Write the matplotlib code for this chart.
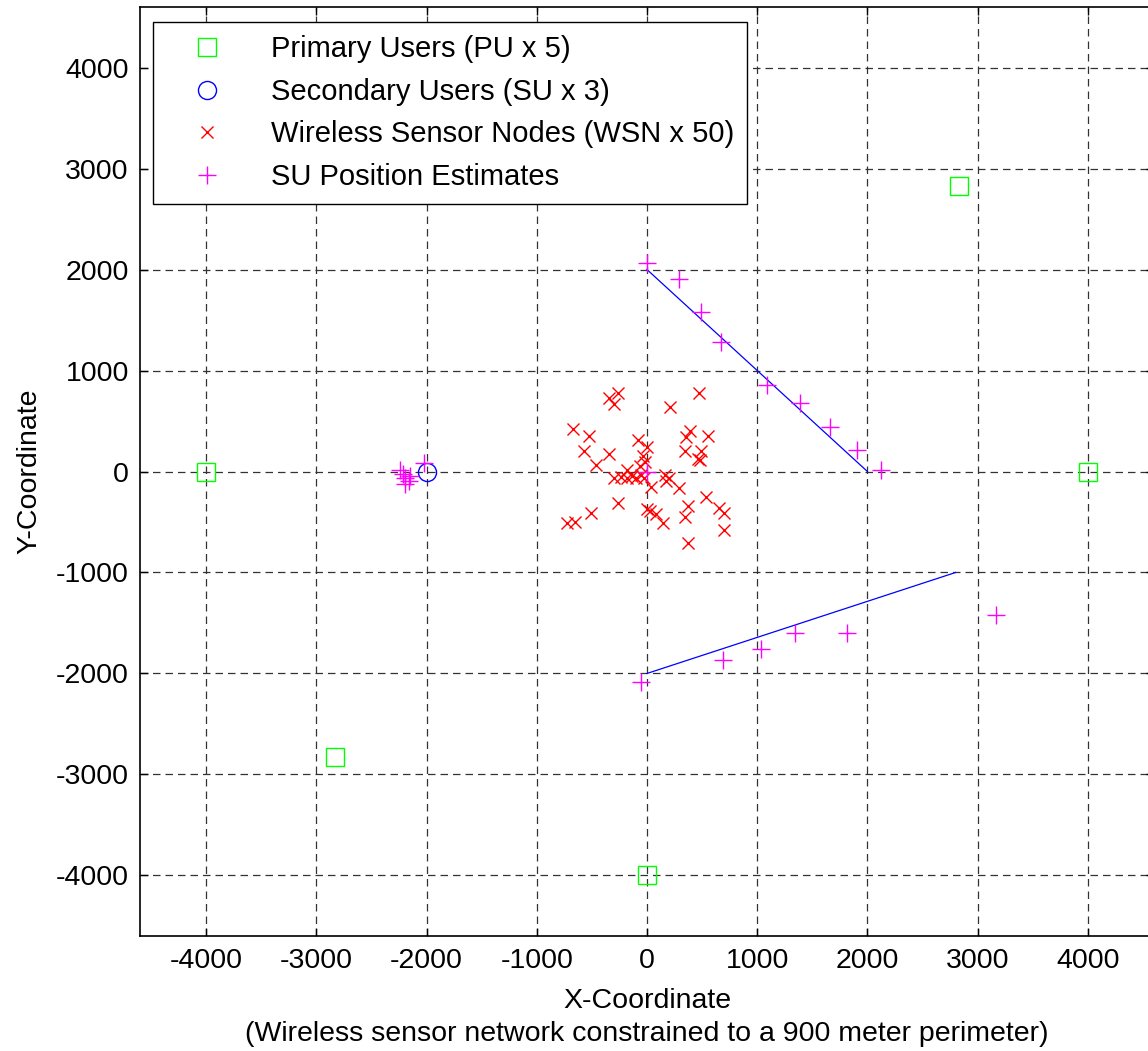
import numpy as np
import matplotlib
matplotlib.use('Agg')
import matplotlib.pyplot as plt

plt.rcParams['font.family'] = ['Liberation Sans', 'DejaVu Sans']
plt.rcParams['font.size'] = 20.5
plt.rcParams['axes.unicode_minus'] = False

# Primary users (PU x 5)
pu_x = [-4000, 2828, 4000, -2828, 0]
pu_y = [0, 2828, 0, -2828, -4000]

# Secondary users (only the fixed one drawn as a circle)
su_x = [-2000]
su_y = [0]

# Wireless sensor nodes (WSN x 50)
wsn_x = [-261, -342, -303, 470, 209, -670, -527, -79, 0, 391,
         352, 555, -570, -342, 348, 488, 464, 485, -36, -20,
         -467, -179, -303, -236, -182, -100, -55, 36, 167, 203,
         173, 291, 533, -264, -509, -727, -652, 0, 30, 82,
         145, 370, 348, 655, 697, 697, 370, -24, -140, -60]
wsn_y = [778, 728, 669, 778, 642, 420, 354, 311, 242, 397,
         338, 354, 199, 175, 199, 199, 126, 116, 149, 90,
         63, 17, -66, -50, -66, -66, -33, -149, -33, -66,
         -99, -159, -248, -315, -407, -513, -497, -374, -387, -420,
         -513, -341, -447, -358, -407, -583, -712, -66, -40, 50]

# SU position estimates
est_x = [0, 289, 489, 672, 1085, 1392, 1657, 1903, 2125,
         -57, 691, 1035, 1340, 1811, 3166,
         -2240, -2215, -2200, -2150, -2200, -2020, -2160,
         0]
est_y = [2066, 1910, 1578, 1286, 860, 681, 438, 216, 13,
         -2089, -1871, -1758, -1603, -1603, -1424,
         10, -20, -60, -40, -120, 80, -90,
         0]

# SU trajectories
path1_x = [0, 2000]
path1_y = [2000, 0]
path2_x = [0, 2800]
path2_y = [-2000, -1000]

fig = plt.figure(figsize=(11.48, 10.51), dpi=100)
ax = fig.add_axes([140 / 1148, 1 - 936 / 1051, 1014 / 1148, 929 / 1051])

ax.plot(pu_x, pu_y, 's', color='#00ff00', mfc='none', ms=13, mew=1,
        label='Primary Users (PU x 5)', zorder=3)
ax.plot(su_x, su_y, 'o', color='#0000ff', mfc='none', ms=13, mew=1,
        label='Secondary Users (SU x 3)', zorder=3)
ax.plot(wsn_x, wsn_y, 'x', color='#ff0000', ms=8, mew=1,
        label='Wireless Sensor Nodes (WSN x 50)', zorder=3)
ax.plot(est_x, est_y, '+', color='#ff00ff', ms=13, mew=1,
        label='SU Position Estimates', zorder=4)
ax.plot(path1_x, path1_y, '-', color='#0000ff', lw=0.9, zorder=2)
ax.plot(path2_x, path2_y, '-', color='#0000ff', lw=0.9, zorder=2)

ax.set_xlim(-4600, 4600)
ax.set_ylim(-4600, 4600)
ax.set_xticks(np.arange(-4000, 4001, 1000))
ax.set_yticks(np.arange(-4000, 4001, 1000))
ax.tick_params(direction='in', top=True, right=True, length=6, width=1,
               labelsize=20.5)
ax.tick_params(axis='x', pad=9)
ax.tick_params(axis='y', pad=8)
ax.grid(True, color='#333333', linestyle=(0, (6, 4)), linewidth=0.9)
for s in ax.spines.values():
    s.set_linewidth(1.2)

ax.set_xlabel('X-Coordinate\n(Wireless sensor network constrained to a 900 meter perimeter)',
              fontsize=20.5, labelpad=10, linespacing=1.35)
ax.set_ylabel('Y-Coordinate', fontsize=20.5, labelpad=10)

leg = ax.legend(loc='upper left', bbox_to_anchor=(153 / 1148, 1 - 22 / 1051),
                bbox_transform=fig.transFigure, borderaxespad=0,
                fontsize=21, fancybox=False, framealpha=1,
                edgecolor='black', handlelength=2.8, handletextpad=0.8,
                labelspacing=0.5, borderpad=0.45)
leg.get_frame().set_linewidth(1.0)

fig.savefig('out.png', dpi=100)
